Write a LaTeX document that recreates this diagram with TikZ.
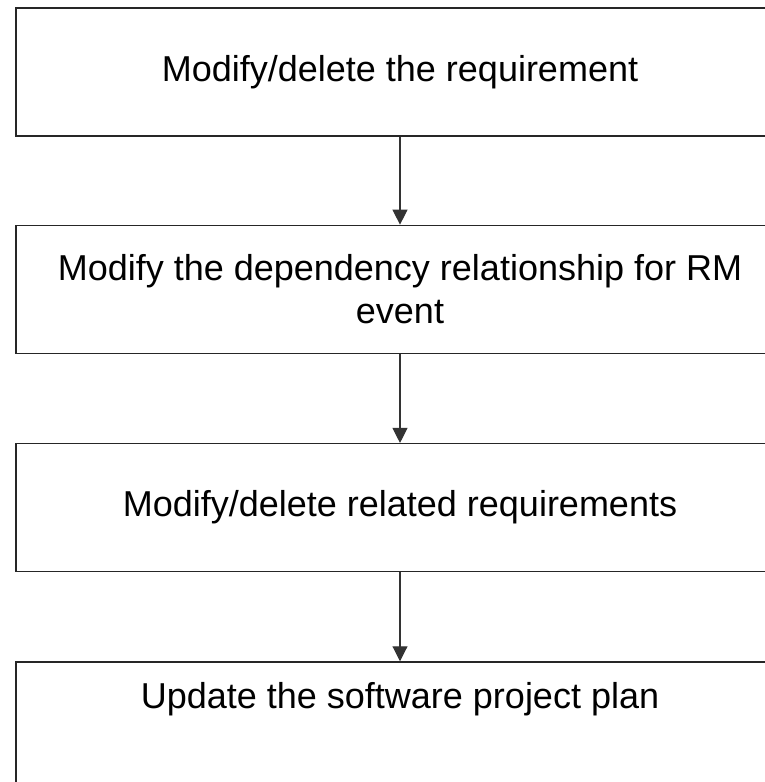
\documentclass[tikz,border=0pt]{standalone}
\usepackage{fontspec}
\setmainfont{Liberation Sans}
\usetikzlibrary{positioning, arrows.meta}

\begin{document}
\begin{tikzpicture}[x=1pt, y=1pt, >={Triangle[width=15pt, length=15pt]},
    box/.style={draw=black!85, line width=1.3pt, minimum width=768pt,
        minimum height=128pt, inner sep=0pt, align=center,
        font=\fontsize{36}{43}\selectfont},
    link/.style={->, draw=black!80, line width=1.1pt}]

    % Frame of the page
    \useasboundingbox (0, 0) rectangle (765, -782);
    \clip (0, 0) rectangle (765, -782);

    % Steps
    \node[box] (req) at (400, -72) {Modify/delete the requirement};
    \node[box, below=88pt of req] (dep)
        {Modify the dependency relationship for RM\\event};
    \node[box, below=89pt of dep] (rel) {Modify/delete related requirements};
    \node[box, below=89pt of rel] (upd) {};
    \node[font=\fontsize{36}{43}\selectfont] (updtxt)
        at ([yshift=-38pt]upd.north) {Update the software project plan};

    % Flow
    \draw[link] (req) -- (dep);
    \draw[link] (dep) -- (rel);
    \draw[link] (rel) -- (upd);

\end{tikzpicture}
\end{document}
